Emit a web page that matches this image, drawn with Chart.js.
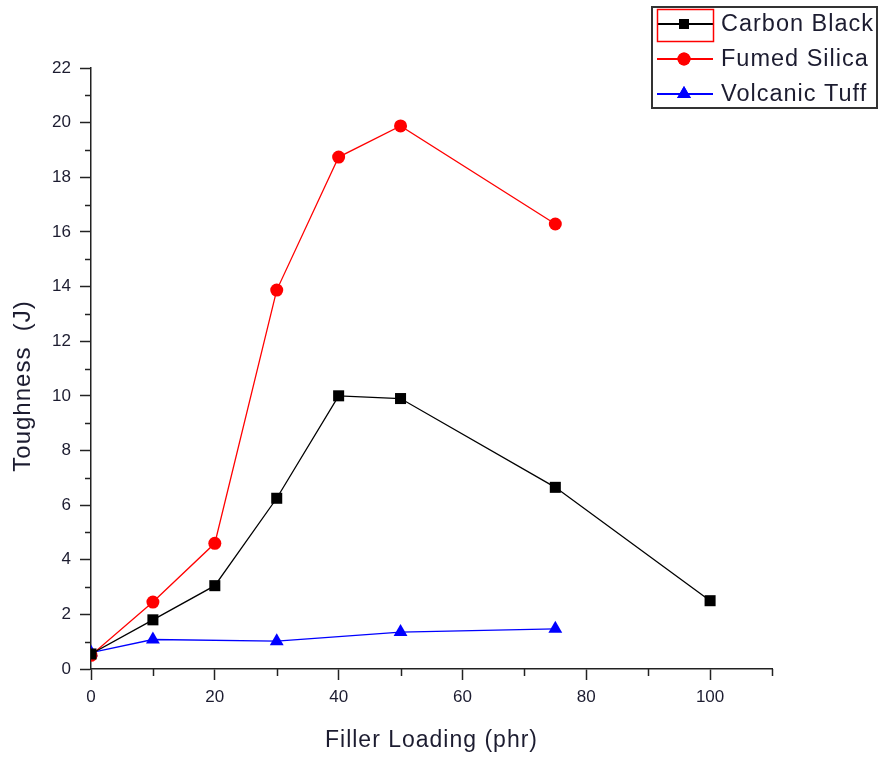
<!DOCTYPE html>
<html>
<head>
<meta charset="utf-8">
<script src="https://cdn.jsdelivr.net/npm/chart.js@4/dist/chart.umd.min.js"></script>
<style>
  html, body { margin: 0; padding: 0; background: #fff; }
  #wrap { width: 879px; height: 757px; }
</style>
</head>
<body>
<div id="wrap"><canvas id="chart"></canvas></div>
<script>
// values
const carbonX = [0, 10, 20, 30, 40, 50, 75, 100];
const carbonY = [0.55, 1.8, 3.05, 6.25, 10.0, 9.9, 6.65, 2.5];
const silicaX = [0, 10, 20, 30, 40, 50, 75];
const silicaY = [0.5, 2.45, 4.6, 13.87, 18.74, 19.88, 16.29];
const tuffX = [0, 10, 30, 50, 75];
const tuffY = [0.6, 1.08, 1.02, 1.35, 1.47];

const seriesNames = ['Carbon Black', 'Fumed Silica', 'Volcanic Tuff'];
const seriesColors = ['#000000', '#ff0000', '#0000ff'];
const seriesMarkers = ['rect', 'circle', 'triangle'];

const xTitle = 'Filler Loading (phr)';
const yTitle = 'Toughness  (J)';

const FONT = '"Liberation Sans", Arial, sans-serif';
const TEXT = '#1c1c30';

function toPoints(xs, ys) {
    return xs.map((x, i) => ({ x, y: ys[i] }));
}

function dataset(i, xs, ys) {
    const radius = { rect: 7.8, circle: 6.5, triangle: 8 }[seriesMarkers[i]];
    return {
        label: seriesNames[i],
        data: toPoints(xs, ys),
        borderColor: seriesColors[i],
        backgroundColor: seriesColors[i],
        borderWidth: 1.3,
        pointStyle: seriesMarkers[i],
        pointRadius: radius,
        pointBorderWidth: 0,
        tension: 0
    };
}

// minor ticks, axis titles and the legend box, drawn on top of the chart
const extras = {
    id: 'extras',
    afterDraw(chart) {
        const ctx = chart.ctx;
        const xs = chart.scales.x;
        const ys = chart.scales.y;
        const area = chart.chartArea;
        ctx.save();
        ctx.strokeStyle = '#222';
        ctx.lineWidth = 1.5;
        for (let v = 10; v <= 110; v += 20) {
            const px = Math.round(xs.getPixelForValue(v)) + 0.5;
            ctx.beginPath();
            ctx.moveTo(px, area.bottom);
            ctx.lineTo(px, area.bottom + 7);
            ctx.stroke();
        }
        for (let v = 1; v <= 21; v += 2) {
            const py = Math.round(ys.getPixelForValue(v)) + 0.5;
            ctx.beginPath();
            ctx.moveTo(area.left, py);
            ctx.lineTo(area.left - 6, py);
            ctx.stroke();
        }

        // axis titles
        ctx.fillStyle = TEXT;
        ctx.letterSpacing = '1px';
        ctx.textAlign = 'center';
        ctx.textBaseline = 'middle';
        ctx.font = '23px ' + FONT;
        ctx.fillText(xTitle, (area.left + area.right) / 2, 741);
        ctx.save();
        ctx.translate(23, 386);
        ctx.rotate(-Math.PI / 2);
        ctx.font = '24px ' + FONT;
        ctx.fillText(yTitle, 0, 0);
        ctx.restore();

        // legend
        ctx.textAlign = 'left';
        ctx.lineWidth = 2;
        ctx.strokeStyle = '#333';
        ctx.strokeRect(652, 7, 225, 101);
        ctx.font = '23.5px ' + FONT;
        seriesNames.forEach((name, i) => {
            const cy = 24 + i * 35;
            ctx.strokeStyle = seriesColors[i];
            ctx.lineWidth = 1.8;
            ctx.beginPath();
            ctx.moveTo(657, cy);
            ctx.lineTo(713, cy);
            ctx.stroke();
            ctx.fillStyle = seriesColors[i];
            const r = { rect: 7, circle: 6.5, triangle: 8 }[seriesMarkers[i]];
            Chart.helpers.drawPoint(ctx, { pointStyle: seriesMarkers[i], radius: r, borderWidth: 0 }, 684, cy);
            ctx.fill();
            ctx.fillStyle = TEXT;
            ctx.fillText(name, 721, cy + 1);
        });
        ctx.strokeStyle = '#ff0000';
        ctx.lineWidth = 1.5;
        ctx.strokeRect(657.5, 9.5, 56, 32);
        ctx.restore();
    }
};

new Chart(document.getElementById('chart'), {
    type: 'line',
    data: {
        datasets: [
            dataset(0, carbonX, carbonY),
            dataset(1, silicaX, silicaY),
            dataset(2, tuffX, tuffY)
        ]
    },
    options: {
        responsive: true,
        maintainAspectRatio: false,
        animation: false,
        layout: { padding: { top: 68, right: 107, left: 0, bottom: 0 } },
        plugins: {
            legend: { display: false },
            tooltip: { enabled: false }
        },
        scales: {
            x: {
                type: 'linear',
                min: 0,
                max: 110,
                afterFit: (s) => { s.height = 88; },
                border: { display: true, color: '#222', width: 1.5 },
                grid: {
                    drawOnChartArea: false,
                    tickLength: 11,
                    tickWidth: 1.5,
                    tickColor: (c) => (c.tick && c.tick.value % 20 === 0 ? '#222' : 'rgba(0,0,0,0)')
                },
                ticks: {
                    stepSize: 20,
                    color: TEXT,
                    font: { family: FONT, size: 17 },
                    padding: 7,
                    maxRotation: 0,
                    callback: (v) => (v <= 100 ? v : '')
                }
            },
            y: {
                type: 'linear',
                min: 0,
                max: 22,
                afterFit: (s) => { s.width = 91; },
                border: { display: true, color: '#222', width: 1.5 },
                grid: {
                    drawOnChartArea: false,
                    tickLength: 11,
                    tickWidth: 1.5,
                    tickColor: '#222'
                },
                ticks: {
                    stepSize: 2,
                    color: TEXT,
                    font: { family: FONT, size: 17 },
                    padding: 9
                }
            }
        }
    },
    plugins: [extras]
});
</script>
</body>
</html>
